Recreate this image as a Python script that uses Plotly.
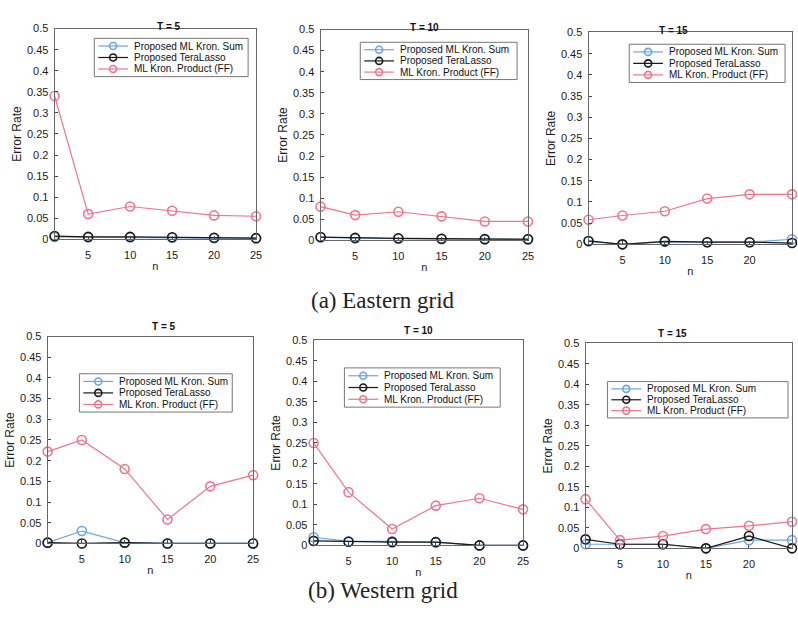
import plotly.graph_objects as go

# Sample sizes along the x axis
n_vals = [1, 5, 10, 15, 20, 25]

series_names = ["Proposed ML Kron. Sum", "Proposed TeraLasso", "ML Kron. Product (FF)"]

# Eastern grid error rates
east_t5_sum = [0.006, 0.005, 0.005, 0.004, 0.003, 0.003]
east_t5_tera = [0.008, 0.006, 0.006, 0.005, 0.004, 0.003]
east_t5_ff = [0.34, 0.06, 0.078, 0.068, 0.057, 0.055]

east_t10_sum = [0.007, 0.005, 0.004, 0.003, 0.003, 0.002]
east_t10_tera = [0.008, 0.006, 0.005, 0.004, 0.003, 0.003]
east_t10_ff = [0.08, 0.06, 0.068, 0.057, 0.045, 0.045]

east_t15_sum = [0.007, 0.0, 0.006, 0.005, 0.005, 0.012]
east_t15_tera = [0.008, 0.0, 0.007, 0.005, 0.005, 0.003]
east_t15_ff = [0.058, 0.068, 0.078, 0.108, 0.118, 0.118]

# Western grid error rates
west_t5_sum = [0.002, 0.03, 0.002, 0.0, 0.0, 0.0]
west_t5_tera = [0.002, 0.0, 0.002, 0.0, 0.0, 0.0]
west_t5_ff = [0.222, 0.25, 0.18, 0.058, 0.138, 0.165]

west_t10_sum = [0.02, 0.01, 0.01, 0.008, 0.0, 0.0]
west_t10_tera = [0.011, 0.009, 0.008, 0.008, 0.0, 0.0]
west_t10_ff = [0.25, 0.13, 0.04, 0.097, 0.115, 0.088]

west_t15_sum = [0.01, 0.01, 0.01, 0.0, 0.02, 0.02]
west_t15_tera = [0.022, 0.01, 0.01, 0.0, 0.03, 0.0]
west_t15_ff = [0.12, 0.02, 0.03, 0.047, 0.055, 0.065]

panel_titles = ["T = 5", "T = 10", "T = 15", "T = 5", "T = 10", "T = 15"]
panels = [
    (east_t5_sum, east_t5_tera, east_t5_ff),
    (east_t10_sum, east_t10_tera, east_t10_ff),
    (east_t15_sum, east_t15_tera, east_t15_ff),
    (west_t5_sum, west_t5_tera, west_t5_ff),
    (west_t10_sum, west_t10_tera, west_t10_ff),
    (west_t15_sum, west_t15_tera, west_t15_ff),
]
captions = ["(a) Eastern grid", "(b) Western grid"]

W, H = 798, 624
colors = ["rgb(110,165,225)", "rgb(25,25,25)", "rgb(238,118,138)"]


def px(xp):
    return xp / W


def py(yp):
    return 1 - yp / H


# plot-area boxes in pixels: (left, right, top, bottom)
boxes = [
    (55, 258, 23, 238),
    (323, 532, 24, 239),
    (593, 800, 27, 243),
    (48, 255, 337, 548),
    (316, 527, 341, 550),
    (590, 800, 344, 553),
]
# legend boxes in pixels: (left, top, right, bottom)
legend_boxes = [
    (95, 33, 250, 72),
    (363, 37, 521, 75),
    (634, 39, 791, 78),
    (80, 375, 234, 414),
    (347, 369, 504, 409),
    (612, 383, 794, 420),
]

fig = go.Figure()
layout = {}
shapes = []
annotations = []
for i, (vals, box, title, lb) in enumerate(zip(panels, boxes, panel_titles, legend_boxes)):
    k = "" if i == 0 else str(i + 1)
    for j, v in enumerate(vals):
        fig.add_trace(go.Scatter(
            x=n_vals, y=v, mode="lines+markers", name=series_names[j],
            line=dict(color=colors[j], width=1.2),
            marker=dict(symbol="circle-open", size=9, color=colors[j], line=dict(width=1.6)),
            xaxis="x" + k, yaxis="y" + k, cliponaxis=False, showlegend=False,
        ))
    l, r, t, b = box
    layout["xaxis" + k] = dict(
        domain=[px(l), min(px(r), 1.0)], anchor="y" + k, range=[1, 25],
        tickvals=[5, 10, 15, 20, 25], ticks="inside", ticklen=3, tickcolor="#444",
        ticklabelstandoff=5,
        showline=True, mirror=True, linecolor="#666", linewidth=1, showgrid=False,
        zeroline=False, tickfont=dict(family="Arial", size=11, color="#1a1a1a"),
        title=dict(text="n", font=dict(family="Arial", size=11, color="#1a1a1a"), standoff=2),
    )
    layout["yaxis" + k] = dict(
        domain=[py(b), py(t)], anchor="x" + k, range=[0, 0.5],
        tickvals=[0, 0.05, 0.1, 0.15, 0.2, 0.25, 0.3, 0.35, 0.4, 0.45, 0.5],
        ticktext=["0", "0.05", "0.1", "0.15", "0.2", "0.25", "0.3", "0.35", "0.4", "0.45", "0.5"],
        ticks="inside", ticklen=3, tickcolor="#444", ticklabelstandoff=3,
        showline=True, mirror=True, linecolor="#666", linewidth=1, showgrid=False,
        zeroline=False, tickfont=dict(family="Arial", size=11, color="#1a1a1a"),
        title=dict(text="Error Rate", font=dict(family="Arial", size=12, color="#1a1a1a"), standoff=2),
    )
    annotations.append(dict(
        text="<b>" + title + "</b>", x=px((l + min(r, 798)) / 2), y=py(t - 10),
        xref="paper", yref="paper", showarrow=False,
        font=dict(family="Arial", size=10, color="#111"),
    ))

    # legend: framed box with a line + open circle swatch and a label per series
    ll, lt, lr, lbm = lb
    shapes.append(dict(type="rect", xref="paper", yref="paper",
                       x0=px(ll), x1=px(lr), y0=py(lbm), y1=py(lt),
                       line=dict(color="#777", width=1), fillcolor="white", layer="above"))
    hgt = lbm - lt
    for j, name in enumerate(series_names):
        ry = lt + hgt * (0.2 + 0.3 * j)
        shapes.append(dict(type="line", xref="paper", yref="paper",
                           x0=px(ll + 4), x1=px(ll + 34), y0=py(ry), y1=py(ry),
                           line=dict(color=colors[j], width=1.2), layer="above"))
        shapes.append(dict(type="circle", xref="paper", yref="paper",
                           xsizemode="pixel", ysizemode="pixel",
                           xanchor=px(ll + 19), yanchor=py(ry),
                           x0=-3.5, x1=3.5, y0=-3.5, y1=3.5,
                           line=dict(color=colors[j], width=1.6), fillcolor="rgba(0,0,0,0)",
                           layer="above"))
        annotations.append(dict(
            text=name, x=px(ll + 38), y=py(ry), xref="paper", yref="paper",
            xanchor="left", yanchor="middle", showarrow=False,
            font=dict(family="Arial", size=10, color="#111"),
        ))

for cap, ypx in zip(captions, [300, 611]):
    annotations.append(dict(
        text=cap, x=px(386), y=py(ypx), xref="paper", yref="paper",
        showarrow=False, font=dict(family="Liberation Serif", size=23, color="#222"),
    ))

fig.update_layout(
    width=W, height=H, margin=dict(l=0, r=0, t=0, b=0),
    paper_bgcolor="white", plot_bgcolor="white", showlegend=False,
    shapes=shapes, annotations=annotations,
    **layout,
)
fig.write_html("out.html")
